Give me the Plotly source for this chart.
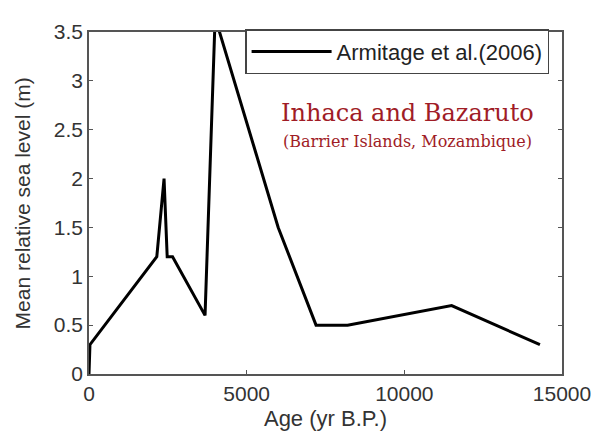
import plotly.graph_objects as go

# Data
age_bp = [0, 30, 2150, 2380, 2480, 2650, 3680, 4000, 6000, 7200, 8200, 11500, 14300]
sea_level = [0.0, 0.3, 1.2, 2.0, 1.2, 1.2, 0.6, 3.65, 1.5, 0.5, 0.5, 0.7, 0.3]
series_name = "Armitage et al.(2006)"
x_ticks = [0, 5000, 10000, 15000]
x_tick_labels = ["0", "5000", "10000", "15000"]
y_ticks = [0, 0.5, 1, 1.5, 2, 2.5, 3, 3.5]
y_tick_labels = ["0", "0.5", "1", "1.5", "2", "2.5", "3", "3.5"]

fig = go.Figure()
fig.add_trace(go.Scatter(
    x=age_bp, y=sea_level, mode="lines", name=series_name,
    line=dict(color="black", width=3), showlegend=True,
))

axis_common = dict(
    showline=True, linecolor="#555555", linewidth=1.5, mirror="ticks",
    ticks="inside", ticklen=4, tickcolor="#555555", showgrid=False, zeroline=False,
    tickfont=dict(family="Liberation Sans, Arial", size=21, color="#333333"),
)

fig.update_layout(
    width=595, height=433,
    margin=dict(l=81, r=38, t=12, b=67),
    paper_bgcolor="white", plot_bgcolor="white",
    font=dict(family="Liberation Sans, Arial", color="#333333"),
    xaxis=dict(range=[0, 15000], tickvals=x_ticks, ticktext=x_tick_labels,
               title=dict(text="Age (yr B.P.)", font=dict(size=22), standoff=7), **axis_common),
    yaxis=dict(range=[0, 3.5], tickvals=y_ticks, ticktext=y_tick_labels, **axis_common),
    legend=dict(x=0.9727, y=1.008, xanchor="right", yanchor="top", bgcolor="white",
                bordercolor="#444444", borderwidth=1.5, font=dict(size=22, color="#222222"),
                itemwidth=80),
    annotations=[
        dict(x=-0.1408, y=0.5, xref="paper", yref="paper", text="Mean relative sea level (m)",
             showarrow=False, textangle=-90, xanchor="center", yanchor="middle",
             font=dict(size=21, color="#333333")),
        dict(x=10116, y=2.67, xref="x", yref="y", text="Inhaca and Bazaruto", showarrow=False,
             xanchor="center", yanchor="middle",
             font=dict(family="DejaVu Serif", size=24, color="#a01c26")),
        dict(x=10116, y=2.38, xref="x", yref="y", text="(Barrier Islands, Mozambique)", showarrow=False,
             xanchor="center", yanchor="middle",
             font=dict(family="DejaVu Serif", size=16, color="#a01c26")),
    ],
)

fig.write_html("out.html")
